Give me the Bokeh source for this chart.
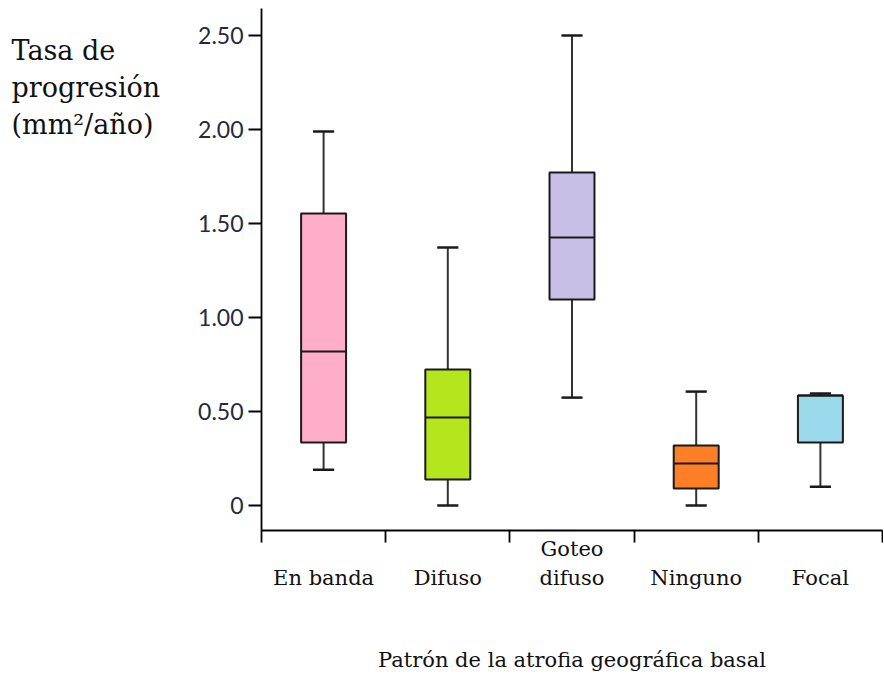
from bokeh.plotting import figure
from bokeh.layouts import row
from bokeh.models import Range1d, FixedTicker, ColumnDataSource, LinearAxis
from bokeh.core.properties import value
from bokeh.embed import file_html
from bokeh.resources import INLINE

# ---- data ----
categories = ["En banda", "Difuso", "Goteo difuso", "Ninguno", "Focal"]
category_line1 = ["", "", "Goteo", "", ""]
category_line2 = ["En banda", "Difuso", "difuso", "Ninguno", "Focal"]
whisker_low = [0.19, 0.00, 0.574, 0.00, 0.10]
q1 = [0.335, 0.138, 1.096, 0.090, 0.335]
median = [0.819, 0.468, 1.426, 0.223, 0.585]
q3 = [1.553, 0.723, 1.771, 0.319, 0.585]
whisker_high = [1.989, 1.372, 2.50, 0.606, 0.596]
colors = ["#FFAEC9", "#B5E61D", "#C8BFE7", "#FF7F27", "#99D9EA"]
y_ticks = [0, 0.5, 1.0, 1.5, 2.0, 2.5]
y_tick_labels = ["0", "0.50", "1.00", "1.50", "2.00", "2.50"]
y_title_lines = ["Tasa de", "progresión", "(mm²/año)"]
x_title = "Patrón de la atrofia geográfica basal"

SERIF = "DejaVu Serif"
TOTAL_W, H = 883, 674
TITLE_W = 190
FRAME_TOP, FRAME_BOTTOM = 8, 530

# ---- left panel holding the horizontal y-axis title ----
pt = figure(width=TITLE_W, height=H, output_backend="svg", toolbar_location=None,
            x_range=Range1d(0, TITLE_W), y_range=Range1d(FRAME_BOTTOM, FRAME_TOP),
            min_border_left=0, min_border_right=0, min_border_top=FRAME_TOP,
            min_border_bottom=H - FRAME_BOTTOM)
pt.axis.visible = False
pt.grid.visible = False
pt.outline_line_color = None
title_baselines = [50, 87, 124]
pt.text(x=[11] * len(y_title_lines), y=title_baselines, text=y_title_lines,
        text_font=value(SERIF), text_font_size="27px", text_color="#111111",
        text_align="left", text_baseline="alphabetic")

# ---- main box plot ----
p = figure(width=TOTAL_W - TITLE_W, height=H, output_backend="svg", toolbar_location=None,
           x_range=Range1d(0, len(categories)), y_range=Range1d(-0.133, 2.644),
           min_border_left=261 - TITLE_W, min_border_right=1, min_border_top=FRAME_TOP,
           min_border_bottom=H - FRAME_BOTTOM)
p.outline_line_color = None
p.grid.visible = False

xs = [i + 0.5 for i in range(len(categories))]
box_w = 0.362
cap_w = 0.17

src = ColumnDataSource(dict(x=xs, q1=q1, q3=q3, med=median, lo=whisker_low, hi=whisker_high,
                            color=colors,
                            xl=[x - box_w / 2 for x in xs], xr=[x + box_w / 2 for x in xs],
                            cl=[x - cap_w / 2 for x in xs], cr=[x + cap_w / 2 for x in xs]))

p.segment(x0="x", y0="q3", x1="x", y1="hi", source=src, line_color="#333333", line_width=2)
p.segment(x0="x", y0="q1", x1="x", y1="lo", source=src, line_color="#333333", line_width=2)
p.vbar(x="x", width=box_w, bottom="q1", top="q3", source=src, fill_color="color",
       line_color="#1a1a1a", line_width=2)
p.segment(x0="xl", y0="med", x1="xr", y1="med", source=src, line_color="#1a1a1a", line_width=2)
p.segment(x0="cl", y0="hi", x1="cr", y1="hi", source=src, line_color="#1a1a1a", line_width=2.5)
p.segment(x0="cl", y0="lo", x1="cr", y1="lo", source=src, line_color="#1a1a1a", line_width=2.5)

# x axis: boundary ticks (minor) + first line of category labels
xa = p.xaxis[0]
line1_ticks = [x for x, t in zip(xs, category_line1) if t]
xa.ticker = FixedTicker(ticks=line1_ticks, minor_ticks=list(range(len(categories) + 1)))
xa.major_label_overrides = {x: t for x, t in zip(xs, category_line1) if t}
xa.major_tick_line_color = None
xa.major_tick_out = 0
xa.major_tick_in = 0
xa.minor_tick_out = 12
xa.minor_tick_in = 0
xa.minor_tick_line_color = "black"
xa.minor_tick_line_width = 1.8
xa.axis_line_color = "black"
xa.axis_line_width = 1.8
xa.major_label_text_font = SERIF
xa.major_label_text_font_size = "21px"
xa.major_label_text_color = "#111111"
xa.major_label_standoff = -6

# second line of category labels + axis title
xb = LinearAxis(ticker=FixedTicker(ticks=xs),
                major_label_overrides={x: t for x, t in zip(xs, category_line2)})
xb.axis_line_color = None
xb.major_tick_line_color = None
xb.minor_tick_line_color = None
xb.major_tick_out = 0
xb.major_tick_in = 0
xb.major_label_text_font = SERIF
xb.major_label_text_font_size = "21px"
xb.major_label_text_color = "#111111"
xb.major_label_standoff = 2
xb.axis_label = x_title
xb.axis_label_text_font = SERIF
xb.axis_label_text_font_size = "21px"
xb.axis_label_text_font_style = "normal"
xb.axis_label_text_color = "#111111"
xb.axis_label_standoff = 55
p.add_layout(xb, "below")

ya = p.yaxis[0]
ya.ticker = FixedTicker(ticks=y_ticks)
ya.major_label_overrides = {t: l for t, l in zip(y_ticks, y_tick_labels)}
ya.major_tick_out = 13
ya.major_tick_in = 0
ya.minor_tick_line_color = None
ya.axis_line_width = 1.8
ya.major_tick_line_width = 1.8
ya.axis_line_color = "black"
ya.major_tick_line_color = "black"
ya.major_label_text_font = "Lato"
ya.major_label_text_font_size = "23px"
ya.major_label_text_color = "#252a3a"
ya.major_label_standoff = 5

layout = row(pt, p, spacing=0)
open("out.html", "w").write(file_html(layout, INLINE))
